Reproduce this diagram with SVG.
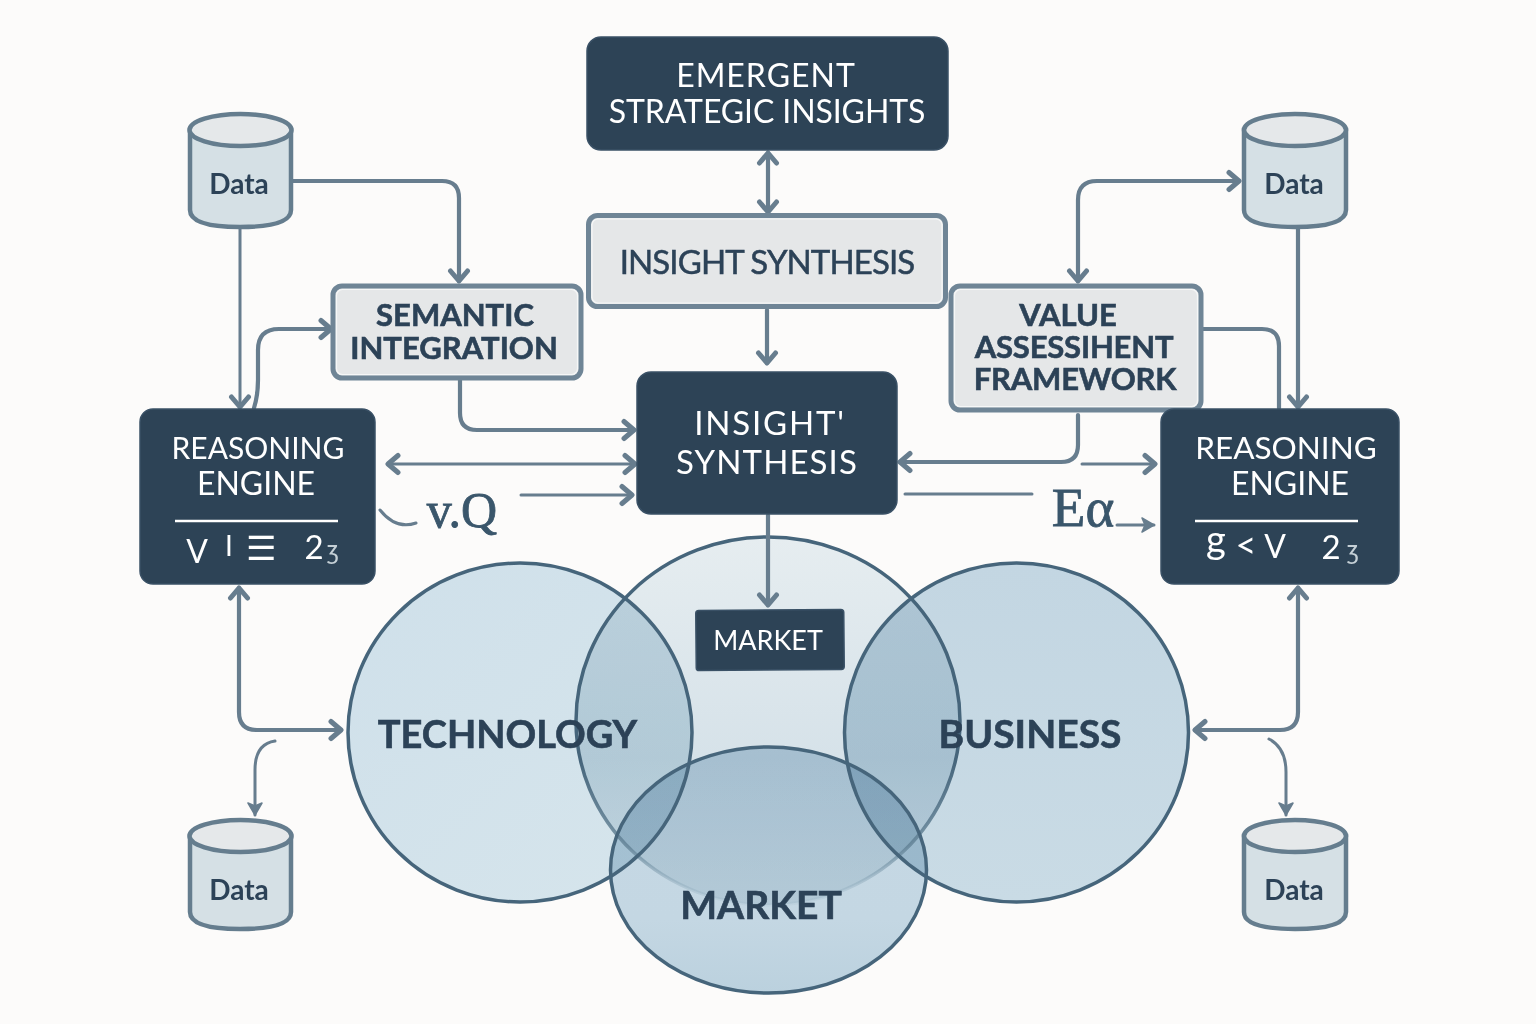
<svg xmlns="http://www.w3.org/2000/svg" width="1536" height="1024" viewBox="0 0 1536 1024">
<style>
.dark{fill:#2d4356;stroke:#3a5166;stroke-width:1.500}
.light{fill:#e5e7e8;stroke:#6f8596;stroke-width:5}
.inner{fill:none;stroke:#f6f7f7;stroke-width:1.200}
.cyl{fill:#d5e0e5;stroke:#657d8e;stroke-width:4.500}
.cyltop{fill:#e5e8ea;stroke:#657d8e;stroke-width:4.500}
text{font-family:Lato,"Open Sans","Liberation Sans",sans-serif;text-anchor:middle}
.w{fill:#fff}
.b{fill:#2c4257;font-weight:700;stroke:#2c4257;stroke-width:.6}
.dt{fill:#2c4257;font-weight:700;font-size:28px}
.serif{font-family:"Liberation Serif",serif;fill:#3a566b;stroke:#3a566b;stroke-width:.8}
.c{fill:none;stroke:#677d8e;stroke-width:4.200;stroke-linejoin:round;stroke-linecap:round}
.t{fill:none;stroke:#677d8e;stroke-width:3;stroke-linecap:round}
.vf{mix-blend-mode:multiply}
.vs{fill:none;stroke:#46657b;stroke-width:3.500}
</style>
<defs>
<marker id="h" viewBox="0 0 24 24" refX="20" refY="12" markerWidth="24" markerHeight="24" markerUnits="userSpaceOnUse" orient="auto-start-reverse"><path d="M10 3.500L20 12L10 20.500" fill="none" stroke="#677d8e" stroke-width="5" stroke-linecap="round" stroke-linejoin="round"/></marker>
<marker id="f" viewBox="0 0 20 20" refX="17" refY="10" markerWidth="20" markerHeight="20" markerUnits="userSpaceOnUse" orient="auto"><path d="M5 3L17 10L5 17L8 10Z" fill="#677d8e" stroke="#677d8e" stroke-width="1.500" stroke-linejoin="round"/></marker>
<linearGradient id="topfill" x1="0" y1="0" x2="0" y2="1"><stop offset="0" stop-color="#e6edf0"/><stop offset=".6" stop-color="#d6e2e9"/><stop offset="1" stop-color="#e9eff2"/></linearGradient>
<linearGradient id="topstroke" gradientUnits="userSpaceOnUse" x1="0" y1="760" x2="0" y2="905"><stop offset="0" stop-color="#46657b"/><stop offset=".6" stop-color="#5f7f93" stop-opacity=".75"/><stop offset="1" stop-color="#9ab6c6" stop-opacity=".15"/></linearGradient>
<linearGradient id="techfill" x1="0" y1="0" x2="1" y2="1"><stop offset="0" stop-color="#cfe0ea"/><stop offset="1" stop-color="#d6e5ec"/></linearGradient>
<linearGradient id="bizfill" x1="0" y1="0" x2="0" y2="1"><stop offset="0" stop-color="#c3d6e2"/><stop offset="1" stop-color="#c9dbe5"/></linearGradient>
<linearGradient id="mktfill" x1="0" y1="0" x2="0" y2="1"><stop offset="0" stop-color="#c6d8e4"/><stop offset=".7" stop-color="#c4d7e3"/><stop offset="1" stop-color="#bbd1de"/></linearGradient>
</defs>
<rect width="1536" height="1024" fill="#fcfbfa"/>

<g id="venn">
<g style="isolation:isolate">
<ellipse class="vf" cx="520" cy="732.500" rx="172" ry="169.500" fill="url(#techfill)"/>
<ellipse class="vf" cx="768" cy="721" rx="192" ry="184" fill="url(#topfill)"/>
<ellipse class="vf" cx="1016.500" cy="732.500" rx="172" ry="169.500" fill="url(#bizfill)"/>
<ellipse class="vf" cx="768.500" cy="870" rx="158" ry="123" fill="url(#mktfill)"/>
</g>
<ellipse class="vs" cx="768" cy="721" rx="192" ry="184" style="stroke:url(#topstroke)"/>
<ellipse class="vs" cx="520" cy="732.500" rx="172" ry="169.500"/>
<ellipse class="vs" cx="1016.500" cy="732.500" rx="172" ry="169.500"/>
<ellipse class="vs" cx="768.500" cy="870" rx="158" ry="123"/>
<text class="b" x="507.500" y="748" font-size="38">TECHNOLOGY</text>
<text class="b" x="1030" y="748" font-size="39">BUSINESS</text>
<text class="b" x="761" y="919" font-size="39">MARKET</text>
</g>

<g id="connectors">
<path class="c" marker-start="url(#h)" marker-end="url(#h)" d="M768 153V212"/>
<path class="c" marker-end="url(#h)" d="M767 310V363"/>
<path class="c" marker-end="url(#h)" d="M292 181H442Q459 181 459 198V281"/>
<path class="t" marker-end="url(#h)" d="M240 228V407"/>
<path class="c" marker-end="url(#h)" d="M254 408Q258 395 258 380V350Q258 329 279 329H331"/>
<path class="c" marker-end="url(#h)" d="M460 380V413Q460 430 477 430H634"/>
<path class="t" marker-start="url(#h)" marker-end="url(#h)" d="M388 464H635"/>
<path class="t" marker-end="url(#h)" d="M521 495H632"/>
<path class="c" marker-end="url(#h)" d="M768 515V605"/>
<path class="c" marker-start="url(#h)" marker-end="url(#h)" d="M1078 281V200Q1078 181 1097 181H1239"/>
<path class="c" marker-end="url(#h)" d="M1298 228V407"/>
<path class="c" d="M1203 329H1262Q1279 329 1279 346V408"/>
<path class="c" marker-end="url(#h)" d="M1078 415V445Q1078 462 1061 462H900"/>
<path class="t" marker-end="url(#h)" d="M1082 464H1155"/>
<path class="t" d="M905 494H1032"/>
<path class="t" marker-end="url(#f)" d="M1117 525H1154"/>
<path class="t" d="M380 510Q396 530 416 523"/>
<path class="c" marker-start="url(#h)" marker-end="url(#h)" d="M239 588V712Q239 730 257 730H341"/>
<path class="c" marker-start="url(#h)" marker-end="url(#h)" d="M1298 588V712Q1298 730 1280 730H1195"/>
<path class="t" marker-end="url(#f)" d="M275 741Q255 744 255 770V815"/>
<path class="t" marker-end="url(#f)" d="M1269 739Q1286 748 1286 772V815"/>
</g>

<g id="emergent-strategic-insights">
<rect class="dark" x="587" y="37" width="361" height="113" rx="14"/>
<text class="w" x="766" y="87" font-size="32" letter-spacing="1">EMERGENT</text>
<text class="w" x="767" y="123" font-size="32" letter-spacing="-.1">STRATEGIC INSIGHTS</text>
</g>
<g id="insight-synthesis-top">
<rect class="light" x="588.500" y="215.500" width="357" height="91" rx="9"/>
<rect class="inner" x="592" y="219" width="350" height="84" rx="6"/>
<text x="767" y="274" font-size="33" letter-spacing="-.9" fill="#2c4257" stroke="#2c4257" stroke-width=".5">INSIGHT SYNTHESIS</text>
</g>
<g id="semantic-integration">
<rect class="light" x="333" y="286" width="248" height="92" rx="9"/>
<rect class="inner" x="336.500" y="289.500" width="241" height="85" rx="6"/>
<text class="b" x="455" y="326" font-size="31">SEMANTIC</text>
<text class="b" x="454" y="359" font-size="31">INTEGRATION</text>
</g>
<g id="value-assessment-framework">
<rect class="light" x="951" y="286" width="250" height="124" rx="9"/>
<rect class="inner" x="954.500" y="289.500" width="243" height="117" rx="6"/>
<text class="b" x="1068" y="326" font-size="31">VALUE</text>
<text class="b" x="1074" y="358" font-size="31" letter-spacing="-.2">ASSESSIHENT</text>
<text class="b" x="1075" y="390" font-size="31" letter-spacing="-.2">FRAMEWORK</text>
</g>
<g id="insight-synthesis-center">
<rect class="dark" x="637" y="372" width="260" height="142" rx="14"/>
<text class="w" x="770" y="435" font-size="33" letter-spacing="1.800">INSIGHT'</text>
<text class="w" x="767" y="474" font-size="33" letter-spacing="1.100">SYNTHESIS</text>
</g>
<g id="reasoning-engine-left">
<rect class="dark" x="140" y="409" width="235" height="175" rx="13"/>
<text class="w" x="258" y="459" font-size="30">REASONING</text>
<text class="w" x="256" y="495" font-size="32">ENGINE</text>
<path d="M175 521H338" stroke="#fff" stroke-width="2.500"/>
<text class="w" x="197" y="563" font-size="32">V</text>
<text class="w" x="229" y="556" font-size="28">I</text>
<text class="w" x="261" y="560" font-size="34">☰</text>
<text class="w" x="314" y="559" font-size="33">2</text>
<text x="333" y="559" font-size="26" fill="#c5d0d6">ʒ</text>
</g>
<g id="reasoning-engine-right">
<rect class="dark" x="1161" y="409" width="238" height="175" rx="13"/>
<text class="w" x="1286" y="459" font-size="31.500">REASONING</text>
<text class="w" x="1290" y="495" font-size="32">ENGINE</text>
<path d="M1195 521H1358" stroke="#fff" stroke-width="2.500"/>
<text class="w" x="1216" y="553" font-size="38">g</text>
<text class="w" x="1246" y="558" font-size="36">&lt;</text>
<text class="w" x="1275" y="558" font-size="32">V</text>
<text class="w" x="1331" y="559" font-size="33">2</text>
<text x="1353" y="559" font-size="26" fill="#c5d0d6">ʒ</text>
</g>
<g id="market-label">
<rect class="dark" x="696" y="610" width="148" height="60" rx="3" transform="rotate(-.5 770 640)"/>
<text class="w" x="768" y="650" font-size="27">MARKET</text>
</g>
<g id="symbol-left"><text class="serif" x="462" y="527" font-size="50">v.Q</text></g>
<g id="symbol-right"><text class="serif" x="1083" y="526" font-size="55">Eα</text></g>

<g id="data-top-left">
<path class="cyl" d="M190 130V210Q190 227 240 227Q291 227 291 210V130Z"/>
<ellipse class="cyltop" cx="240.500" cy="130" rx="51" ry="16"/>
<text class="dt" x="239" y="194">Data</text>
</g>
<g id="data-top-right">
<path class="cyl" d="M1244 130V210Q1244 227 1295 227Q1346 227 1346 210V130Z"/>
<ellipse class="cyltop" cx="1295" cy="130" rx="51" ry="16"/>
<text class="dt" x="1294" y="194">Data</text>
</g>
<g id="data-bottom-left">
<path class="cyl" d="M190 836V912Q190 929 240 929Q291 929 291 912V836Z"/>
<ellipse class="cyltop" cx="240.500" cy="836" rx="51" ry="16"/>
<text class="dt" x="239" y="900">Data</text>
</g>
<g id="data-bottom-right">
<path class="cyl" d="M1244 836V912Q1244 929 1295 929Q1346 929 1346 912V836Z"/>
<ellipse class="cyltop" cx="1295" cy="836" rx="51" ry="16"/>
<text class="dt" x="1294" y="900">Data</text>
</g>
</svg>
